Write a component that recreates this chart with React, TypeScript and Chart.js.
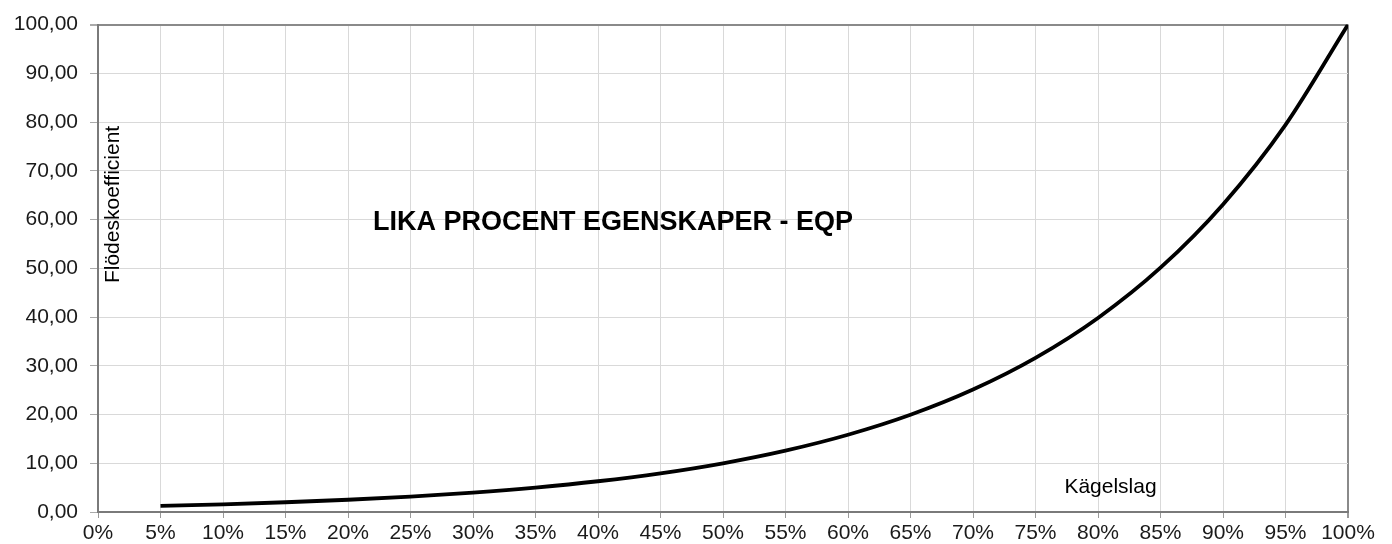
import React, { useEffect, useRef } from "react";
import { Chart, registerables } from "chart.js";

Chart.register(...registerables);

const strokePercent = [5, 10, 15, 20, 25, 30, 35, 40, 45, 50, 55, 60, 65, 70, 75, 80, 85, 90, 95, 100];
const flowCoefficient = [1.26, 1.58, 2.0, 2.51, 3.16, 3.98, 5.01, 6.31, 7.94, 10.0, 12.59, 15.85, 19.95, 25.12, 31.62, 39.81, 50.12, 63.1, 79.43, 100.0];
const chartTitle = "LIKA PROCENT EGENSKAPER - EQP";
const xAxisLabel = "Kägelslag";
const yAxisLabel = "Flödeskoefficient";

const FONT = "Arial, 'Liberation Sans', Helvetica, sans-serif";

const textPlugin = {
  id: "innerText",
  afterDatasetsDraw(chart: any) {
    const { ctx, scales } = chart;
    const xs = scales.x;
    const ys = scales.y;
    ctx.save();
    ctx.fillStyle = "#000";
    ctx.textBaseline = "middle";
    ctx.textAlign = "center";
    ctx.font = `bold 27px ${FONT}`;
    ctx.fillText(chartTitle, xs.getPixelForValue(41.2), ys.getPixelForValue(59.4));
    ctx.font = `21px ${FONT}`;
    ctx.fillText(xAxisLabel, xs.getPixelForValue(81.0), ys.getPixelForValue(5.0));
    ctx.translate(xs.getPixelForValue(1.2), ys.getPixelForValue(63.1));
    ctx.rotate(-Math.PI / 2);
    ctx.fillText(yAxisLabel, 0, 0);
    ctx.restore();
  },
};

export default function App() {
  const ref = useRef<HTMLCanvasElement | null>(null);
  useEffect(() => {
    document.body.style.margin = "0";
    if (!ref.current) return;
    const data = strokePercent.map((x, i) => ({ x, y: flowCoefficient[i] }));
    const edge = (v: number) => v === 100;
    const chart = new Chart(ref.current, {
      type: "line",
      data: {
        datasets: [
          {
            data,
            borderColor: "#000",
            borderWidth: 3.8,
            pointRadius: 0,
            cubicInterpolationMode: "monotone",
            fill: false,
          },
        ],
      },
      plugins: [textPlugin],
      options: {
        animation: false,
        responsive: false,
        devicePixelRatio: 1,
        layout: { padding: { top: 24, right: 44, left: 0, bottom: 0 } },
        plugins: { legend: { display: false }, tooltip: { enabled: false }, title: { display: false } },
        scales: {
          x: {
            type: "linear",
            min: 0,
            max: 100,
            ticks: {
              stepSize: 5,
              color: "#1a1a1a",
              font: { family: FONT, size: 21 },
              padding: 3,
              maxRotation: 0,
              autoSkip: false,
              callback: (v: any) => `${v}%`,
            },
            grid: {
              color: (c: any) => (edge(c.tick?.value) ? "#8a8a8a" : "#d9d9d9"),
              lineWidth: (c: any) => (edge(c.tick?.value) ? 2 : 1),
              tickLength: 6,
              tickColor: "#999",
            },
            border: { color: "#7a7a7a", width: 2 },
            afterFit: (s: any) => {
              s.height = 32;
            },
          },
          y: {
            min: 0,
            max: 100,
            ticks: {
              stepSize: 10,
              color: "#1a1a1a",
              font: { family: FONT, size: 21 },
              padding: 12,
              callback: (v: any) => Number(v).toFixed(2).replace(".", ","),
            },
            grid: {
              color: (c: any) => (edge(c.tick?.value) ? "#8a8a8a" : "#d9d9d9"),
              lineWidth: (c: any) => (edge(c.tick?.value) ? 2 : 1),
              tickLength: 8,
              tickColor: "#aaa",
            },
            border: { color: "#7a7a7a", width: 2 },
            afterFit: (s: any) => {
              s.width = 98;
            },
          },
        },
      },
    } as any);
    return () => chart.destroy();
  }, []);
  return (
    <div style={{ width: 1392, height: 544, background: "#fff" }}>
      <canvas ref={ref} width={1392} height={544} style={{ display: "block" }} />
    </div>
  );
}
